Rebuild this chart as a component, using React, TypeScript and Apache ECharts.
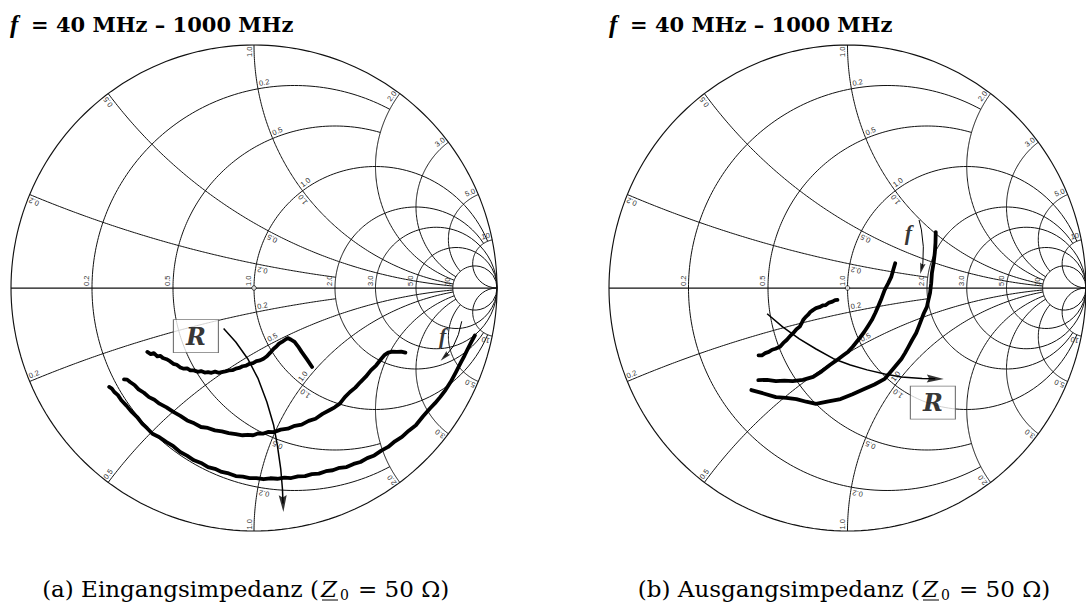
import React, { useEffect, useRef } from "react";
import * as echarts from "echarts";

// ---------- Smith chart grid values ----------
const resistanceValues = [0.2, 0.5, 1, 2, 3, 5, 10];
const resistanceReach = [2, 2, 10, 10, 1e9, 1e9, 1e9]; // |x| up to which each r-circle is drawn
const reactanceValues = [0.2, 0.5, 1, 2, 3, 5, 10];
const reactanceReach = [2, 10, 10, 10, 10, 10, 1e9]; // r up to which each x-arc is drawn
const gridLabels = ["0.2", "0.5", "1.0", "2.0", "3.0", "5.0", "10"];
const innerLabelValues = [0.2, 0.5, 1];
const innerLabelTexts = ["0.2", "0.5", "1.0"];

// ---------- texts ----------
const titleSymbol = "f";
const titleRest = "= 40 MHz – 1000 MHz";
const captionHeads = ["(a) Eingangsimpedanz (", "(b) Ausgangsimpedanz ("];
const captionZ = "Z";
const captionSub = "0";
const captionTail = "= 50 Ω)";
const boxLabel = "R";
const freqLabel = "f";

// ---------- measured traces (reflection coefficient plane, Re / Im) ----------
// (a) input impedance
const inTraceUpper = [
  [-0.439, -0.263], [-0.425, -0.272], [-0.412, -0.268], [-0.398, -0.281], [-0.385, -0.279],
  [-0.375, -0.288], [-0.360, -0.293], [-0.346, -0.301], [-0.332, -0.312], [-0.318, -0.316],
  [-0.303, -0.327], [-0.289, -0.332], [-0.275, -0.331], [-0.262, -0.339], [-0.247, -0.339],
  [-0.232, -0.345], [-0.218, -0.342], [-0.203, -0.348], [-0.189, -0.346], [-0.175, -0.349],
  [-0.160, -0.344], [-0.146, -0.349], [-0.133, -0.346], [-0.118, -0.343], [-0.104, -0.339],
  [-0.089, -0.338], [-0.075, -0.332], [-0.061, -0.329], [-0.047, -0.322], [-0.032, -0.319],
  [-0.018, -0.312], [-0.004, -0.309], [0.010, -0.301], [0.025, -0.298], [0.039, -0.291],
  [0.053, -0.281], [0.067, -0.266], [0.081, -0.250], [0.092, -0.241], [0.103, -0.229],
  [0.115, -0.222], [0.128, -0.213], [0.139, -0.206], [0.153, -0.213], [0.167, -0.222],
  [0.181, -0.240], [0.196, -0.263], [0.218, -0.294], [0.239, -0.325],
];
const inTraceMiddle = [
  [-0.535, -0.376], [-0.522, -0.377], [-0.510, -0.387], [-0.492, -0.399], [-0.475, -0.417],
  [-0.453, -0.431], [-0.432, -0.449], [-0.410, -0.460], [-0.389, -0.476], [-0.360, -0.491],
  [-0.332, -0.510], [-0.303, -0.526], [-0.275, -0.545], [-0.246, -0.557], [-0.218, -0.572],
  [-0.190, -0.576], [-0.161, -0.586], [-0.132, -0.590], [-0.104, -0.597], [-0.075, -0.601],
  [-0.047, -0.606], [-0.025, -0.604], [-0.004, -0.606], [0.018, -0.598], [0.039, -0.599],
  [0.060, -0.592], [0.081, -0.593], [0.110, -0.583], [0.139, -0.579], [0.168, -0.567],
  [0.196, -0.562], [0.225, -0.547], [0.253, -0.538], [0.282, -0.518], [0.310, -0.503],
  [0.332, -0.491], [0.353, -0.476], [0.374, -0.449], [0.395, -0.428], [0.417, -0.410],
  [0.438, -0.387], [0.460, -0.365], [0.481, -0.339], [0.503, -0.318], [0.524, -0.291],
  [0.538, -0.275], [0.552, -0.266], [0.570, -0.262], [0.588, -0.263], [0.606, -0.262],
  [0.623, -0.266],
];
const inTraceLower = [
  [-0.596, -0.407], [-0.585, -0.414], [-0.575, -0.428], [-0.560, -0.441], [-0.546, -0.462],
  [-0.525, -0.484], [-0.503, -0.510], [-0.481, -0.531], [-0.460, -0.558], [-0.440, -0.577],
  [-0.418, -0.600], [-0.389, -0.614], [-0.360, -0.634], [-0.332, -0.651], [-0.304, -0.675],
  [-0.276, -0.690], [-0.247, -0.709], [-0.218, -0.720], [-0.189, -0.737], [-0.161, -0.744],
  [-0.133, -0.757], [-0.104, -0.763], [-0.075, -0.774], [-0.046, -0.776], [-0.018, -0.782],
  [0.010, -0.782], [0.039, -0.787], [0.067, -0.783], [0.096, -0.785], [0.125, -0.780],
  [0.153, -0.782], [0.181, -0.775], [0.210, -0.774], [0.238, -0.766], [0.267, -0.764],
  [0.296, -0.754], [0.324, -0.750], [0.352, -0.740], [0.381, -0.737], [0.410, -0.724],
  [0.438, -0.716], [0.466, -0.700], [0.495, -0.689], [0.524, -0.669], [0.552, -0.654],
  [0.580, -0.631], [0.609, -0.613], [0.637, -0.587], [0.666, -0.565], [0.695, -0.529],
  [0.723, -0.497], [0.745, -0.474], [0.766, -0.449], [0.788, -0.420], [0.809, -0.387],
  [0.830, -0.348], [0.852, -0.305], [0.866, -0.279], [0.880, -0.250], [0.895, -0.221],
  [0.909, -0.195],
];
const inArrowR = [
  [-0.125, -0.167], [-0.075, -0.222], [-0.026, -0.291], [0.017, -0.373], [0.053, -0.469],
  [0.081, -0.565], [0.096, -0.647], [0.110, -0.744], [0.117, -0.826], [0.121, -0.922],
];
const inArrowF = [[0.855, -0.137], [0.841, -0.192], [0.820, -0.240], [0.793, -0.274], [0.768, -0.299]];
const inBoxAt = [-0.239, -0.198];
const inFreqAt = [0.776, -0.195];

// (b) output impedance
const outTraceA = [
  [-0.042, -0.049], [-0.052, -0.050], [-0.063, -0.056], [-0.077, -0.060], [-0.091, -0.070],
  [-0.104, -0.072], [-0.118, -0.079], [-0.132, -0.083], [-0.145, -0.091], [-0.156, -0.099],
  [-0.166, -0.111], [-0.176, -0.120], [-0.186, -0.132], [-0.193, -0.146], [-0.200, -0.159],
  [-0.214, -0.170], [-0.228, -0.186], [-0.241, -0.198], [-0.255, -0.214], [-0.269, -0.226],
  [-0.283, -0.242], [-0.302, -0.250], [-0.316, -0.254], [-0.330, -0.263], [-0.345, -0.268],
  [-0.359, -0.277], [-0.373, -0.277],
];
const outTraceB = [
  [0.200, 0.102], [0.192, 0.075], [0.184, 0.047], [0.171, 0.020], [0.156, -0.008],
  [0.143, -0.042], [0.128, -0.077], [0.117, -0.102], [0.102, -0.132], [0.087, -0.155],
  [0.070, -0.181], [0.047, -0.211], [0.021, -0.243], [0.003, -0.262], [-0.016, -0.276],
  [-0.045, -0.297], [-0.074, -0.317], [-0.108, -0.343], [-0.144, -0.366], [-0.187, -0.378],
  [-0.230, -0.383], [-0.265, -0.381], [-0.300, -0.383], [-0.337, -0.378], [-0.374, -0.379],
];
const outTraceC = [
  [0.370, 0.230], [0.369, 0.187], [0.366, 0.144], [0.361, 0.103], [0.354, 0.062],
  [0.351, 0.020], [0.346, -0.021], [0.339, -0.050], [0.333, -0.078], [0.320, -0.104],
  [0.309, -0.132], [0.299, -0.158], [0.288, -0.185], [0.271, -0.214], [0.255, -0.243],
  [0.241, -0.268], [0.226, -0.292], [0.191, -0.333], [0.156, -0.374], [0.113, -0.397],
  [0.070, -0.416], [0.021, -0.437], [-0.029, -0.457], [-0.080, -0.467], [-0.132, -0.477],
  [-0.173, -0.468], [-0.214, -0.457], [-0.257, -0.452], [-0.300, -0.449], [-0.352, -0.434],
  [-0.403, -0.420],
];
const outArrowR = [
  [-0.337, -0.106], [-0.272, -0.160], [-0.202, -0.209], [-0.132, -0.251], [-0.059, -0.291],
  [0.012, -0.317], [0.082, -0.337], [0.156, -0.354], [0.226, -0.366], [0.313, -0.372],
  [0.403, -0.374],
];
const outArrowF = [[0.300, 0.280], [0.310, 0.239], [0.318, 0.170], [0.316, 0.102], [0.305, 0.058]];
const outBoxAt = [0.358, -0.472];
const outFreqAt = [0.255, 0.230];

const panels = [
  { traces: [inTraceUpper, inTraceMiddle, inTraceLower], arrowR: inArrowR, arrowF: inArrowF, box: inBoxAt, freq: inFreqAt },
  { traces: [outTraceA, outTraceB, outTraceC], arrowR: outArrowR, arrowF: outArrowF, box: outBoxAt, freq: outFreqAt },
];

// ---------- layout ----------
const W = 1086;
const H = 604;
const centerX = [254, 852];
const centerY = 288;
const RADIUS = 243;

function gamma(r: number, x: number): number[] {
  const d = (r + 1) * (r + 1) + x * x;
  return [(r * r + x * x - 1) / d, (2 * x) / d];
}
function rCurve(r: number, xmax: number) {
  const pts: number[][] = [];
  const a = Math.atan(xmax);
  const n = 220;
  for (let i = 0; i <= n; i++) pts.push(gamma(r, Math.tan(-a + (2 * a * i) / n)));
  return pts;
}
function xCurve(x: number, rmax: number) {
  const pts: number[][] = [];
  const a = Math.atan(rmax);
  const n = 180;
  for (let i = 0; i <= n; i++) pts.push(gamma(Math.tan((a * i) / n), x));
  return pts;
}

const GRID_COLOR = "#111";

function buildSeries(k: number) {
  const s: any[] = [];
  const base = {
    type: "line", xAxisIndex: k, yAxisIndex: k, showSymbol: false, symbol: "none",
    silent: true, clip: false, animation: false,
  };
  s.push({ ...base, data: rCurve(0, 1e9), lineStyle: { color: GRID_COLOR, width: 1.15 }, z: 2 });
  s.push({ ...base, data: [[-1, 0], [1, 0]], lineStyle: { color: GRID_COLOR, width: 1.25 }, z: 2 });
  resistanceValues.forEach((r, i) =>
    s.push({ ...base, data: rCurve(r, resistanceReach[i]), lineStyle: { color: GRID_COLOR, width: 1 }, z: 2 })
  );
  reactanceValues.forEach((x, i) => {
    s.push({ ...base, data: xCurve(x, reactanceReach[i]), lineStyle: { color: GRID_COLOR, width: 1 }, z: 2 });
    s.push({ ...base, data: xCurve(-x, reactanceReach[i]), lineStyle: { color: GRID_COLOR, width: 1 }, z: 2 });
  });
  // centre marker
  s.push({
    type: "scatter", xAxisIndex: k, yAxisIndex: k, silent: true, data: [[0, 0]],
    symbol: "circle", symbolSize: 4.5, itemStyle: { color: "#fff", borderColor: "#000", borderWidth: 0.9 }, z: 3,
  });
  const p = panels[k];
  // R box
  s.push({
    type: "scatter", xAxisIndex: k, yAxisIndex: k, silent: true, data: [p.box],
    symbol: "rect", symbolSize: [45, 33],
    itemStyle: { color: "#fff", borderColor: "#555", borderWidth: 1 }, z: 4,
    label: {
      show: true, position: "inside", formatter: boxLabel, color: "#000",
      fontFamily: "DejaVu Serif", fontStyle: "italic", fontWeight: "bold", fontSize: 24,
    },
  });
  // f label
  s.push({
    type: "scatter", xAxisIndex: k, yAxisIndex: k, silent: true, data: [p.freq],
    symbol: "circle", symbolSize: 1, itemStyle: { color: "rgba(0,0,0,0)" }, z: 4,
    label: {
      show: true, position: "inside", formatter: freqLabel, color: "#000",
      fontFamily: "Liberation Serif", fontStyle: "italic", fontWeight: "bold", fontSize: 22,
    },
  });
  // traces
  p.traces.forEach((t) =>
    s.push({
      ...base, data: t, z: 6,
      lineStyle: { color: "#000", width: 3.8, cap: "round", join: "round" },
    })
  );
  // arrows
  const arrow = (pts: number[][], w: number, h: number, lw: number) => {
    const n = pts.length;
    const tip = pts[n - 1];
    const prev = pts[n - 2];
    const dx = tip[0] - prev[0];
    const dy = tip[1] - prev[1];
    const len = Math.hypot(dx, dy);
    const back = h / 2 / RADIUS;
    const c = [tip[0] - (dx / len) * back, tip[1] - (dy / len) * back];
    const shaft = pts.slice(0, n - 1).concat([c]);
    s.push({ ...base, data: shaft, z: 7, lineStyle: { color: "#000", width: lw } });
    s.push({
      type: "scatter", xAxisIndex: k, yAxisIndex: k, silent: true, z: 7,
      data: [{ value: c, symbolRotate: (Math.atan2(dy, dx) * 180) / Math.PI - 90 }],
      symbol: "path://M0,0L5,18L0,15.5L-5,18Z", symbolSize: [w, h],
      itemStyle: { color: "#000" },
    });
  };
  arrow(p.arrowR, 8, 17, 1.5);
  arrow(p.arrowF, 5.5, 11, 1.0);
  return s;
}

const LABEL_FONT = { fontSize: 7.5, fontFamily: "Liberation Sans", fill: "#333" };

export default function App() {
  const ref = useRef<HTMLDivElement>(null);
  useEffect(() => {
    if (!ref.current) return;
    const chart = echarts.init(ref.current, null, { renderer: "svg", width: W, height: H });
    const grids = centerX.map((cx) => ({
      left: cx - RADIUS, top: centerY - RADIUS, width: 2 * RADIUS, height: 2 * RADIUS, show: false,
    }));
    const axisCfg = { type: "value", min: -1, max: 1, show: false };
    chart.setOption({
      animation: false,
      backgroundColor: "#fff",
      grid: grids,
      xAxis: grids.map((_, i) => ({ ...axisCfg, gridIndex: i })),
      yAxis: grids.map((_, i) => ({ ...axisCfg, gridIndex: i })),
      series: [...buildSeries(0), ...buildSeries(1)],
    });

    const els: any[] = [];
    [0, 1].forEach((k) => {
      const px = (g: number[]) => chart.convertToPixel({ gridIndex: k }, g) as number[];
      const cy = px([0, 0])[1];
      const specs: any[] = [];
      resistanceValues.forEach((r, i) =>
        specs.push({ g: [(r - 1) / (r + 1), 0], text: gridLabels[i], rot: Math.PI / 2, align: "left", along: 2, normal: 1.5, mirror: false })
      );
      reactanceValues.forEach((x, i) => {
        const g = gamma(0, x);
        specs.push({ g, text: gridLabels[i], rot: Math.atan2(g[1], g[0]), align: "right", along: -1.5, normal: 1, mirror: true });
      });
      innerLabelValues.forEach((r, i) => {
        const g = gamma(r, 1);
        const dx = g[0] - r / (1 + r);
        const dy = g[1];
        specs.push({ g, text: innerLabelTexts[i], rot: Math.atan2(-dx, dy), align: "left", along: 2, normal: 1, mirror: true });
      });
      innerLabelValues.forEach((x, i) => {
        const g = gamma(1, x);
        const dx = g[0] - 1;
        const dy = g[1] - 1 / x;
        specs.push({ g, text: innerLabelTexts[i], rot: Math.atan2(dx, -dy) + Math.PI, align: "right", along: -2, normal: 1, mirror: true });
      });
      specs.forEach((sp) => {
        const P = px(sp.g);
        const ax = Math.cos(sp.rot), ay = -Math.sin(sp.rot);
        const nx = -Math.sin(sp.rot), ny = -Math.cos(sp.rot);
        const X = P[0] + ax * sp.along + nx * sp.normal;
        const Y = P[1] + ay * sp.along + ny * sp.normal;
        els.push({
          type: "text", x: X, y: Y, rotation: sp.rot, silent: true, z: 3,
          style: { text: sp.text, ...LABEL_FONT, align: sp.align, verticalAlign: "bottom" },
        });
        if (sp.mirror) {
          els.push({
            type: "text", x: X, y: 2 * cy - Y, rotation: Math.PI - sp.rot, silent: true, z: 3,
            style: { text: sp.text, ...LABEL_FONT, align: sp.align === "left" ? "right" : "left", verticalAlign: "bottom" },
          });
        }
      });
    });

    // titles
    const titleX = [10, 609];
    titleX.forEach((tx) => {
      els.push({
        type: "text", x: tx, y: 24, silent: true, z: 10,
        style: { text: titleSymbol, fontFamily: "Liberation Serif", fontStyle: "italic", fontWeight: "bold", fontSize: 25, fill: "#000", align: "left", verticalAlign: "middle" },
      });
      els.push({
        type: "text", x: tx + 21, y: 24, silent: true, z: 10,
        style: { text: titleRest, fontFamily: "DejaVu Serif", fontWeight: "bold", fontSize: 21, fill: "#000", align: "left", verticalAlign: "middle" },
      });
    });
    // captions
    const zX = [321, 922];
    zX.forEach((zx, i) => {
      els.push({
        type: "text", x: zx - 2, y: 589, silent: true, z: 10,
        style: { text: captionHeads[i], fontFamily: "DejaVu Serif", fontSize: 23, fill: "#000", align: "right", verticalAlign: "middle" },
      });
      els.push({
        type: "text", x: zx, y: 589, silent: true, z: 10,
        style: { text: captionZ, fontFamily: "DejaVu Serif", fontStyle: "italic", fontSize: 23, fill: "#000", align: "left", verticalAlign: "middle" },
      });
      els.push({
        type: "text", x: zx + 19, y: 595, silent: true, z: 10,
        style: { text: captionSub, fontFamily: "DejaVu Serif", fontSize: 14, fill: "#000", align: "left", verticalAlign: "middle" },
      });
      els.push({
        type: "line", silent: true, z: 10,
        shape: { x1: zx + 1, y1: 600, x2: zx + 17, y2: 600 },
        style: { stroke: "#000", lineWidth: 1 },
      });
      els.push({
        type: "text", x: zx + 37, y: 589, silent: true, z: 10,
        style: { text: captionTail, fontFamily: "DejaVu Serif", fontSize: 23, fill: "#000", align: "left", verticalAlign: "middle" },
      });
    });
    chart.setOption({ graphic: { elements: els } });
    return () => chart.dispose();
  }, []);
  return (
    <div
      ref={ref}
      style={{ position: "absolute", left: 0, top: 0, width: W, height: H, background: "#fff" }}
    />
  );
}
